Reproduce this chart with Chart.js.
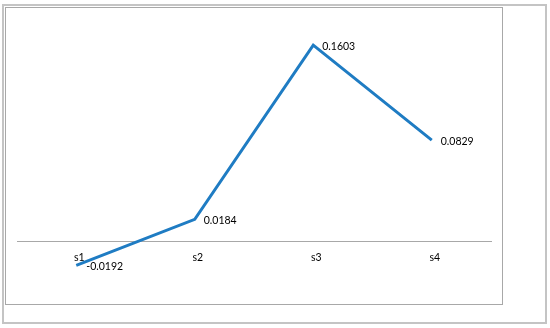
<!DOCTYPE html>
<html>
<head>
<meta charset="utf-8">
<script src="https://cdn.jsdelivr.net/npm/chart.js@4/dist/chart.umd.min.js"></script>
<style>
  html, body { margin: 0; padding: 0; background: #ffffff; }
  #wrap { width: 550px; height: 328px; position: relative; }
</style>
</head>
<body>
<div id="wrap"><canvas id="c" width="550" height="328"></canvas></div>
<script>
const categories = ["s1", "s2", "s3", "s4"];
const seriesValues = [-0.0192, 0.0184, 0.1603, 0.0829];
const valueLabels = ["-0.0192", "0.0184", "0.1603", "0.0829"];

const framePlugin = {
  id: 'frame',
  beforeDraw(chart) {
    const ctx = chart.ctx;
    ctx.save();
    ctx.fillStyle = '#ffffff';
    ctx.fillRect(0, 0, chart.width, chart.height);
    ctx.strokeStyle = '#c4c4c4';
    ctx.lineWidth = 2;
    ctx.strokeRect(3, 5, 543, 318);
    ctx.strokeStyle = '#a8a8a8';
    ctx.lineWidth = 1;
    ctx.strokeRect(5.5, 7.5, 497, 297);
    ctx.restore();
  }
};

const labelPlugin = {
  id: 'valueLabels',
  afterDatasetsDraw(chart) {
    const ctx = chart.ctx;
    const meta = chart.getDatasetMeta(0);
    ctx.save();
    ctx.font = '10.5px Lato, "Open Sans", sans-serif';
    ctx.fillStyle = '#000000';
    ctx.textBaseline = 'middle';
    ctx.textAlign = 'left';
    meta.data.forEach((pt, i) => {
      const dx = i === 0 ? 10 : 9;
      ctx.fillText(valueLabels[i], pt.x + dx, pt.y + 1);
    });
    ctx.restore();
  }
};

new Chart(document.getElementById('c'), {
  type: 'line',
  data: {
    labels: categories,
    datasets: [{
      data: seriesValues,
      borderColor: '#1f7cc3',
      borderWidth: 3,
      tension: 0,
      pointRadius: 0,
      pointHoverRadius: 0,
      fill: false,
      borderJoinStyle: 'miter',
      borderCapStyle: 'butt'
    }]
  },
  options: {
    responsive: false,
    animation: false,
    events: [],
    layout: { padding: { left: 17, right: 59, top: 21, bottom: 37 } },
    plugins: { legend: { display: false }, tooltip: { enabled: false } },
    scales: {
      x: {
        type: 'category',
        offset: true,
        position: { y: 0 },
        grid: { display: false },
        border: { display: true, color: '#a8a8a8', width: 1 },
        ticks: {
          padding: 1,
          labelOffset: 3,
          color: '#000000',
          font: { family: 'Lato, "Open Sans", sans-serif', size: 10.5 }
        }
      },
      y: {
        display: false,
        min: -0.04,
        max: 0.18
      }
    }
  },
  plugins: [framePlugin, labelPlugin]
});
</script>
</body>
</html>
